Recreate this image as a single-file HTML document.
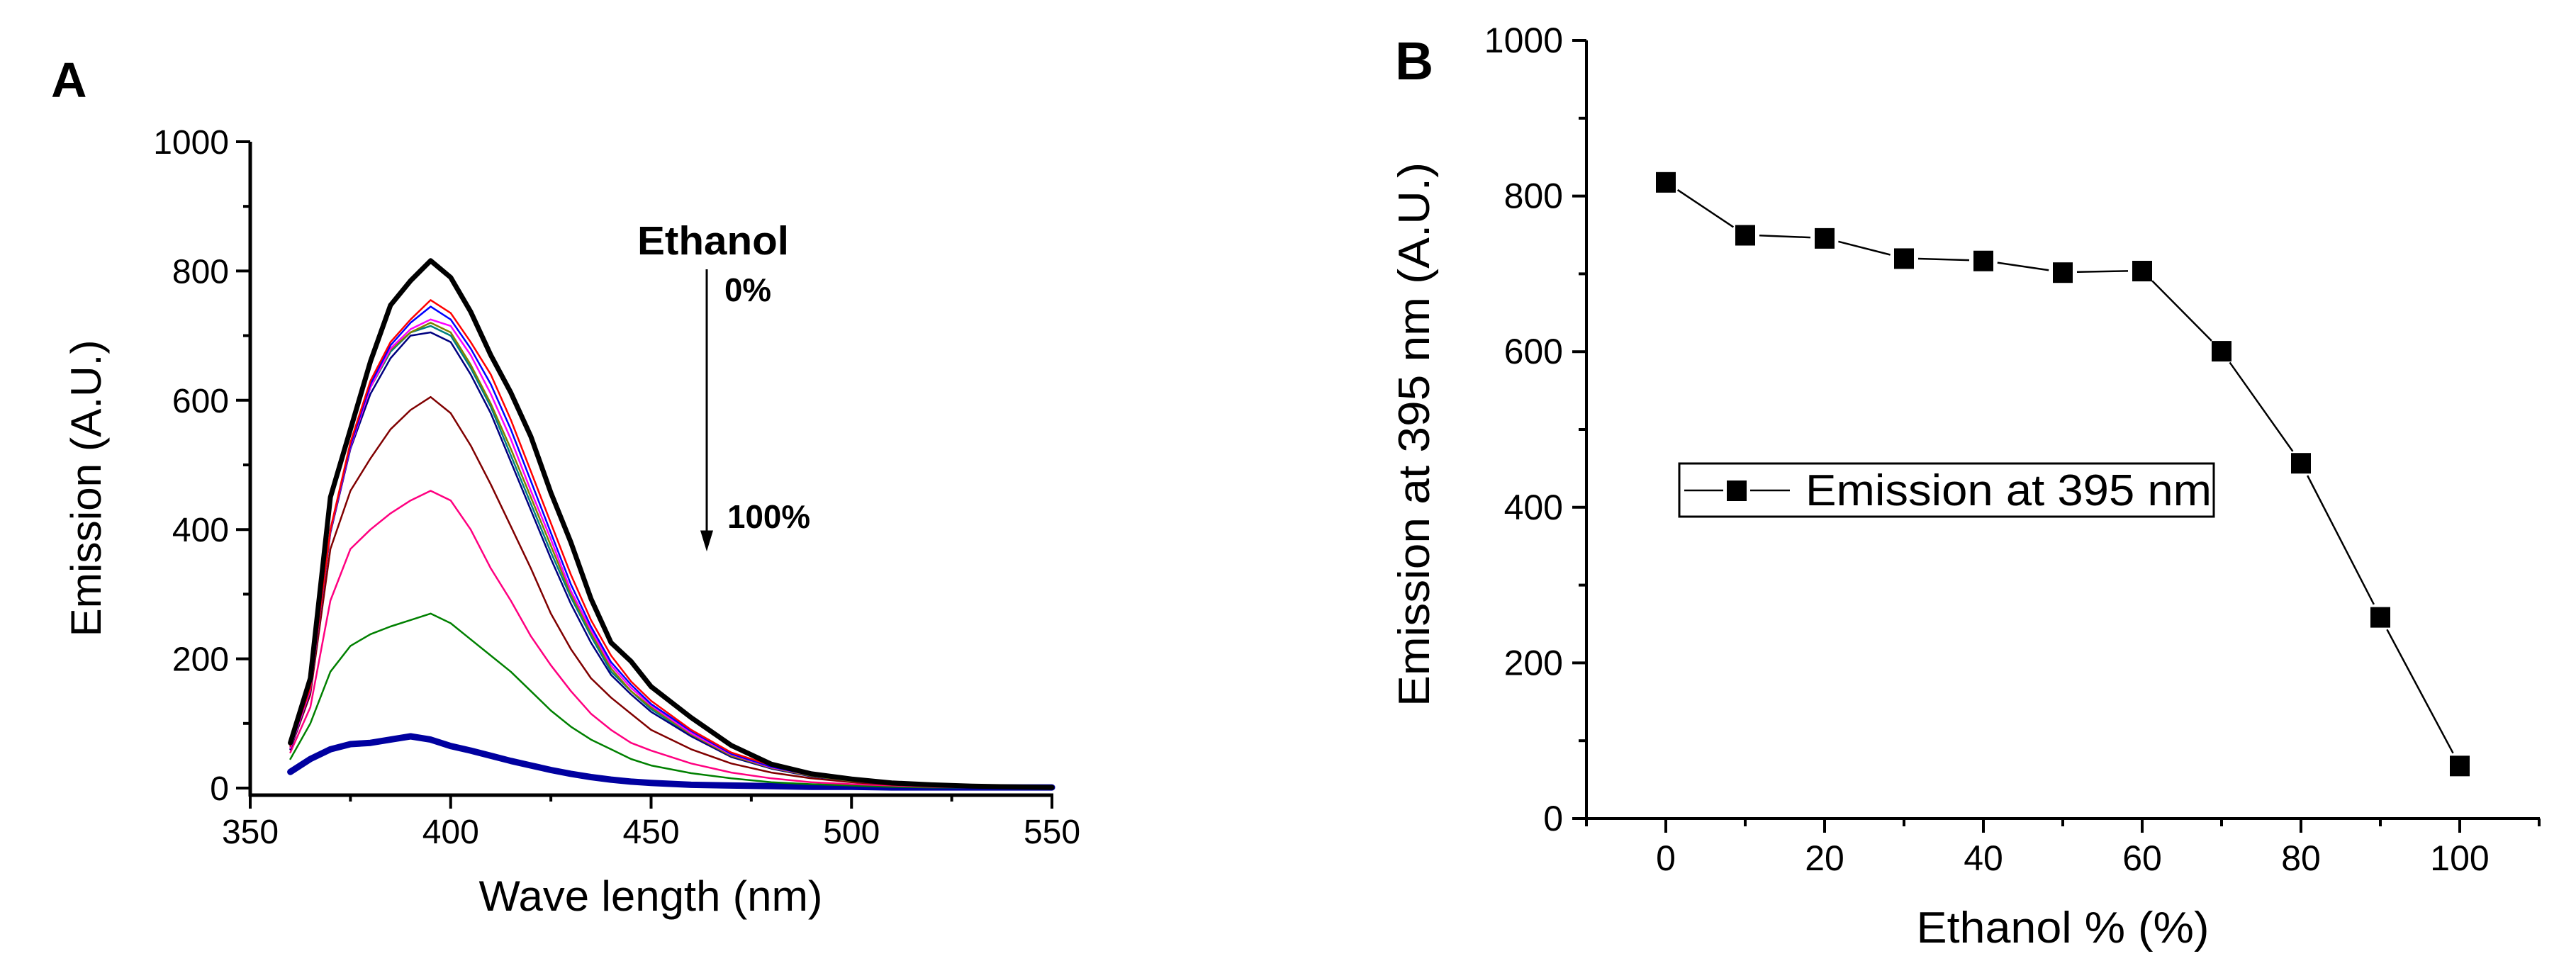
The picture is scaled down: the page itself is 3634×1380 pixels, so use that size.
<!DOCTYPE html>
<html><head><meta charset="utf-8"><style>
html,body{margin:0;padding:0;background:#fff;}
svg{display:block;font-family:"Liberation Sans",Arial,sans-serif;}
</style></head><body>
<svg id="fig" width="3634" height="1380" viewBox="0 0 3634 1380" xmlns="http://www.w3.org/2000/svg">
<rect width="3634" height="1380" fill="#fff"/>
<g id="panelA"></g>
<g id="panelB"></g>
</svg>
<script>
// ---------- Panel A data ----------
const wavelengths = [360,365,370,375,380,385,390,395,400,405,410,415,420,425,430,435,440,445,450,460,470,480,490,500,510,520,530,540,550];
const s0   = [70,170,450,555,660,747,785,816,790,737,670,612,544,457,380,293,225,196,157,109,66,37,22,14,8,5,3,2,1];
const s10  = [65,155,400,535,630,690,725,755,735,690,640,570,490,410,330,260,205,165,135,90,55,35,22,13,8,5,3,2,1];
const s20  = [65,155,400,530,625,685,720,745,725,680,625,555,475,395,315,250,195,160,130,88,53,33,20,12,7,5,3,2,1];
const s30  = [62,152,398,528,620,680,710,725,715,670,610,540,460,385,305,245,190,155,128,85,52,32,20,12,7,5,3,2,1];
const s40  = [62,152,398,528,620,678,705,720,705,655,595,525,450,375,300,240,185,150,125,83,50,31,19,11,7,4,3,2,1];
const s50  = [60,150,395,525,610,665,700,705,690,640,580,505,430,355,285,225,175,145,118,80,48,30,18,11,6,4,3,2,1];
const s60  = [62,152,398,528,620,675,705,715,700,650,590,515,440,365,295,235,180,150,122,82,50,31,19,11,7,4,3,2,1];
const s70  = [60,145,370,460,510,555,585,605,580,530,470,405,340,270,215,170,140,115,90,60,38,24,15,9,5,3,2,1,1];
const s80  = [55,125,290,370,400,425,445,460,445,400,340,290,235,190,150,115,90,70,58,38,24,15,9,6,4,2,1,1,1];
const s90  = [45,100,180,220,238,250,260,270,255,230,205,180,150,120,95,75,60,45,35,23,15,9,6,4,2,1,1,1,1];
const s100 = [25,45,60,68,70,75,80,75,65,58,50,42,35,28,22,17,13,10,8,5,4,3,2,2,1,1,1,1,1];
const seriesNamesA = ["0%","10%","20%","30%","40%","50%","60%","70%","80%","90%","100%"];
const xTicksA = [350,400,450,500,550];
const yTicksA = [0,200,400,600,800,1000];
// ---------- Panel B data ----------
const ethanolPct = [0,10,20,30,40,50,60,70,80,90,100];
const emission395 = [818,750,746,720,717,702,704,601,457,259,68];
const xTicksB = [0,20,40,60,80,100];
const yTicksB = [0,200,400,600,800,1000];

const NS="http://www.w3.org/2000/svg";
function mk(parent,tag,attrs,text){const e=document.createElementNS(NS,tag);for(const k in attrs)e.setAttribute(k,attrs[k]);if(text!==undefined)e.textContent=text;parent.appendChild(e);return e;}

// ===== Panel A =====
const A=document.getElementById('panelA');
const xA=v=>353+(v-350)*5.655;
const yA=v=>1112-v*0.912;
const styles=[["#000",7],["#ff0000",2.5],["#0000ff",2.5],["#ff00ff",2.5],["#808000",2.5],["#000080",2.5],["#008080",2.5],["#800000",2.5],["#ff0080",2.5],["#008000",2.5],["#0000a0",9]];
const seriesA=[s0,s10,s20,s30,s40,s50,s60,s70,s80,s90,s100];
const drawOrder=[10,9,8,7,6,5,4,3,2,1,0];
drawOrder.forEach(i=>{
  const d=seriesA[i].map((v,j)=>(j?'L':'M')+xA(wavelengths[j]).toFixed(1)+','+yA(v).toFixed(1)).join(' ');
  const p=mk(A,'path',{d:d,fill:'none',stroke:styles[i][0],'stroke-width':styles[i][1],'stroke-linejoin':'round','stroke-linecap':'round'});
  
  
});
// axes
let ax=mk(A,'path',{d:'M353,200 L353,1124 M351,1122 L1486,1122',stroke:'#000','stroke-width':5,fill:'none'});


for(let v=350;v<=550;v+=25){const big=v%50===0;const t=mk(A,'line',{x1:xA(v),x2:xA(v),y1:1122,y2:big?1141:1131,stroke:'#000','stroke-width':4});

}
xTicksA.forEach(v=>{const t=mk(A,'text',{x:xA(v),y:1190,'font-size':48,'text-anchor':'middle'},String(v));

});
for(let v=0;v<=1000;v+=100){const big=v%200===0;const t=mk(A,'line',{x1:big?333:343,x2:353,y1:yA(v),y2:yA(v),stroke:'#000','stroke-width':4});

}
yTicksA.forEach(v=>{const t=mk(A,'text',{x:323,y:yA(v)+17,'font-size':48,'text-anchor':'end'},String(v));

});
let tt=mk(A,'text',{x:918,y:1285,'font-size':60,'text-anchor':'middle',textLength:485,lengthAdjust:'spacingAndGlyphs'},'Wave length (nm)');


tt=mk(A,'text',{x:0,y:0,'font-size':60,'text-anchor':'middle',transform:'translate(142,689) rotate(-90)',textLength:419,lengthAdjust:'spacingAndGlyphs'},'Emission (A.U.)');


tt=mk(A,'text',{x:72,y:137,'font-size':70,'font-weight':'bold'},'A');


tt=mk(A,'text',{x:899,y:359,'font-size':57,'font-weight':'bold',textLength:214,lengthAdjust:'spacingAndGlyphs'},'Ethanol');


tt=mk(A,'text',{x:1022,y:425,'font-size':46,'font-weight':'bold',textLength:66,lengthAdjust:'spacingAndGlyphs'},'0%');


tt=mk(A,'text',{x:1026,y:745,'font-size':46,'font-weight':'bold',textLength:117,lengthAdjust:'spacingAndGlyphs'},'100%');


tt=mk(A,'path',{d:'M997,380 L997,752 M990,750 L1004,750 L997,773 Z',stroke:'#000','stroke-width':3,fill:'#000'});



// ===== Panel B =====
const B=document.getElementById('panelB');
const xB=v=>2350+v*11.2;
const yB=v=>1155-v*1.098;
ax=mk(B,'path',{d:'M2238,57 L2238,1157 M2236,1155 L3583,1155',stroke:'#000','stroke-width':4,fill:'none'});


for(let v=-10;v<=110;v+=10){const big=v%20===0;const t=mk(B,'line',{x1:xB(v),x2:xB(v),y1:1155,y2:big?1175:1166,stroke:'#000','stroke-width':4});

}
xTicksB.forEach(v=>{const t=mk(B,'text',{x:xB(v),y:1228,'font-size':50,'text-anchor':'middle'},String(v));

});
for(let v=0;v<=1000;v+=100){const big=v%200===0;const t=mk(B,'line',{x1:big?2218:2227,x2:2238,y1:yB(v),y2:yB(v),stroke:'#000','stroke-width':4});

}
yTicksB.forEach(v=>{const t=mk(B,'text',{x:2205,y:yB(v)+17,'font-size':50,'text-anchor':'end'},String(v));

});
for(let i=0;i<ethanolPct.length-1;i++){
  const x1=xB(ethanolPct[i]),y1=yB(emission395[i]),x2=xB(ethanolPct[i+1]),y2=yB(emission395[i+1]);
  const dx=x2-x1,dy=y2-y1,L=Math.hypot(dx,dy),g=20;
  const s=mk(B,'line',{x1:x1+dx*g/L,y1:y1+dy*g/L,x2:x2-dx*g/L,y2:y2-dy*g/L,stroke:'#000','stroke-width':2.5});
  
  
}
ethanolPct.forEach((p,i)=>{const m=mk(B,'rect',{x:xB(p)-14,y:yB(emission395[i])-14,width:28,height:29,fill:'#000'});

});
tt=mk(B,'text',{x:2910,y:1330,'font-size':62,'text-anchor':'middle',textLength:413,lengthAdjust:'spacingAndGlyphs'},'Ethanol % (%)');


tt=mk(B,'text',{x:0,y:0,'font-size':62,'text-anchor':'middle',transform:'translate(2016,613) rotate(-90)',textLength:768,lengthAdjust:'spacingAndGlyphs'},'Emission at 395 nm (A.U.)');


tt=mk(B,'text',{x:1968,y:112,'font-size':75,'font-weight':'bold'},'B');


const lg=mk(B,'g',{});


mk(lg,'rect',{x:2369,y:654,width:754,height:75,fill:'#fff',stroke:'#000','stroke-width':3});
mk(lg,'line',{x1:2376,x2:2431,y1:692,y2:692,stroke:'#000','stroke-width':2.5});
mk(lg,'line',{x1:2469,x2:2525,y1:692,y2:692,stroke:'#000','stroke-width':2.5});
mk(lg,'rect',{x:2436,y:678,width:28,height:29,fill:'#000'});
tt=mk(lg,'text',{x:2547,y:713,'font-size':62,textLength:573,lengthAdjust:'spacingAndGlyphs'},'Emission at 395 nm');


</script>
</body></html>
